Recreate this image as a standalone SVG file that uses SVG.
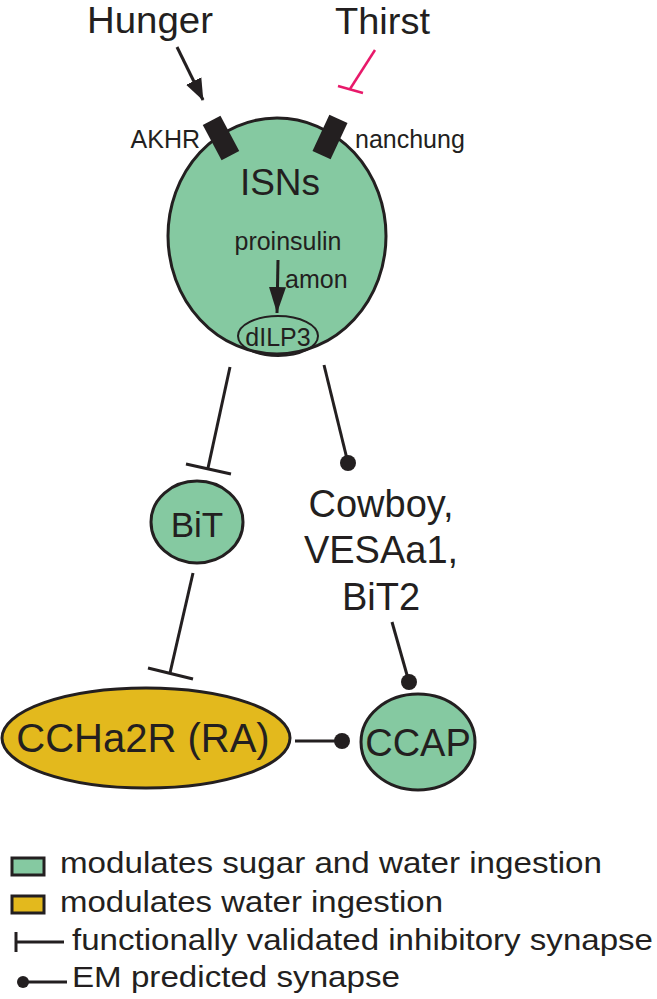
<svg xmlns="http://www.w3.org/2000/svg" width="657" height="999" viewBox="0 0 657 999">
<style>
text{font-family:"Liberation Sans",Arial,sans-serif;fill:#231f20}
.g{fill:#85c9a1;stroke:#231f20;stroke-width:3}
.y{fill:#e3b91d;stroke:#231f20;stroke-width:3}
.ln{stroke:#231f20;stroke-width:3;fill:none}
.dot{fill:#231f20}
.sm{font-size:25px}
.md{font-size:37px}
.lg{font-size:30px}
</style>
<defs>
<marker id="arr" markerUnits="userSpaceOnUse" markerWidth="22" markerHeight="26" refX="25" refY="10" viewBox="0 0 26 20" orient="auto">
<path d="M0,0 L26,10 L0,20 Z" fill="#231f20"/>
</marker>
<marker id="arrs" markerUnits="userSpaceOnUse" markerWidth="26" markerHeight="18" refX="26" refY="8.5" viewBox="0 0 26 17" orient="auto">
<path d="M0,0 L26,8.5 L0,17 Z" fill="#231f20"/>
</marker>
</defs>

<g id="hunger"><text x="87" y="33" font-size="36" textLength="126" lengthAdjust="spacingAndGlyphs">Hunger</text></g>
<g id="thirst"><text x="335" y="34" font-size="36" textLength="95" lengthAdjust="spacingAndGlyphs">Thirst</text></g>

<g id="isns">
<ellipse class="g" cx="277" cy="236" rx="109" ry="118"/>
<rect x="-10" y="-20" width="20" height="40" fill="#231f20" transform="translate(221,138) rotate(-28)"/>
<rect x="-10" y="-20" width="20" height="40" fill="#231f20" transform="translate(330,137) rotate(25)"/>
<text class="md" x="280" y="195" text-anchor="middle">ISNs</text>
<text class="sm" x="288" y="250" text-anchor="middle">proinsulin</text>
<text class="sm" x="285" y="288">amon</text>
<ellipse cx="278" cy="336" rx="40" ry="20" fill="none" stroke="#231f20" stroke-width="2"/>
<text class="sm" x="278" y="346" text-anchor="middle">dILP3</text>
</g>
<g id="akhr"><text class="sm" x="200" y="148" text-anchor="end">AKHR</text></g>
<g id="nanchung"><text class="sm" x="355" y="148">nanchung</text></g>

<g id="bit">
<ellipse class="g" cx="197" cy="522" rx="46" ry="41"/>
<text x="197" y="537" text-anchor="middle" font-size="35">BiT</text>
</g>

<g id="cowboy">
<text x="381" y="517" text-anchor="middle" font-size="38">Cowboy,</text>
<text x="381" y="563" text-anchor="middle" font-size="38">VESAa1,</text>
<text x="381" y="610" text-anchor="middle" font-size="38">BiT2</text>
</g>

<g id="ccha2r">
<ellipse class="y" cx="146" cy="738" rx="144" ry="50"/>
<text x="143" y="752" text-anchor="middle" font-size="40">CCHa2R (RA)</text>
</g>

<g id="ccap">
<ellipse class="g" cx="418" cy="742" rx="57" ry="48"/>
<text x="418" y="756" text-anchor="middle" font-size="38">CCAP</text>
</g>

<g id="connectors">
<line class="ln" x1="177" y1="47" x2="203" y2="100" marker-end="url(#arr)"/>
<line x1="375" y1="50" x2="350" y2="89" stroke="#e8196a" stroke-width="2.5"/>
<line x1="338" y1="86" x2="363" y2="93" stroke="#e8196a" stroke-width="2.5"/>
<line class="ln" x1="278" y1="260" x2="277" y2="313" marker-end="url(#arrs)"/>
<line class="ln" x1="230" y1="367" x2="208" y2="468"/>
<line class="ln" x1="186" y1="464" x2="231" y2="474"/>
<line class="ln" x1="324" y1="365" x2="348" y2="463"/>
<circle class="dot" cx="348" cy="463" r="8"/>
<line class="ln" x1="193" y1="573" x2="170" y2="673"/>
<line class="ln" x1="148" y1="668" x2="193" y2="679"/>
<line class="ln" x1="392" y1="622" x2="409" y2="682"/>
<circle class="dot" cx="409" cy="682" r="8"/>
<line class="ln" x1="295" y1="741" x2="342" y2="741"/>
<circle class="dot" cx="342" cy="741" r="8"/>
</g>

<g id="legend">
<rect x="12" y="858" width="32" height="17" fill="#85c9a1" stroke="#231f20" stroke-width="3"/>
<text class="lg" x="60" y="873" textLength="542" lengthAdjust="spacingAndGlyphs">modulates sugar and water ingestion</text>
<rect x="12" y="896" width="32" height="17" fill="#e3b91d" stroke="#231f20" stroke-width="3"/>
<text class="lg" x="60" y="912" textLength="383" lengthAdjust="spacingAndGlyphs">modulates water ingestion</text>
<line class="ln" x1="16" y1="932" x2="16" y2="952"/>
<line class="ln" x1="16" y1="942" x2="64" y2="942"/>
<text class="lg" x="72" y="950" textLength="581" lengthAdjust="spacingAndGlyphs">functionally validated inhibitory synapse</text>
<circle class="dot" cx="23" cy="982" r="6"/>
<line class="ln" x1="23" y1="982" x2="67" y2="982"/>
<text class="lg" x="72" y="987" textLength="328" lengthAdjust="spacingAndGlyphs">EM predicted synapse</text>
</g>
</svg>
